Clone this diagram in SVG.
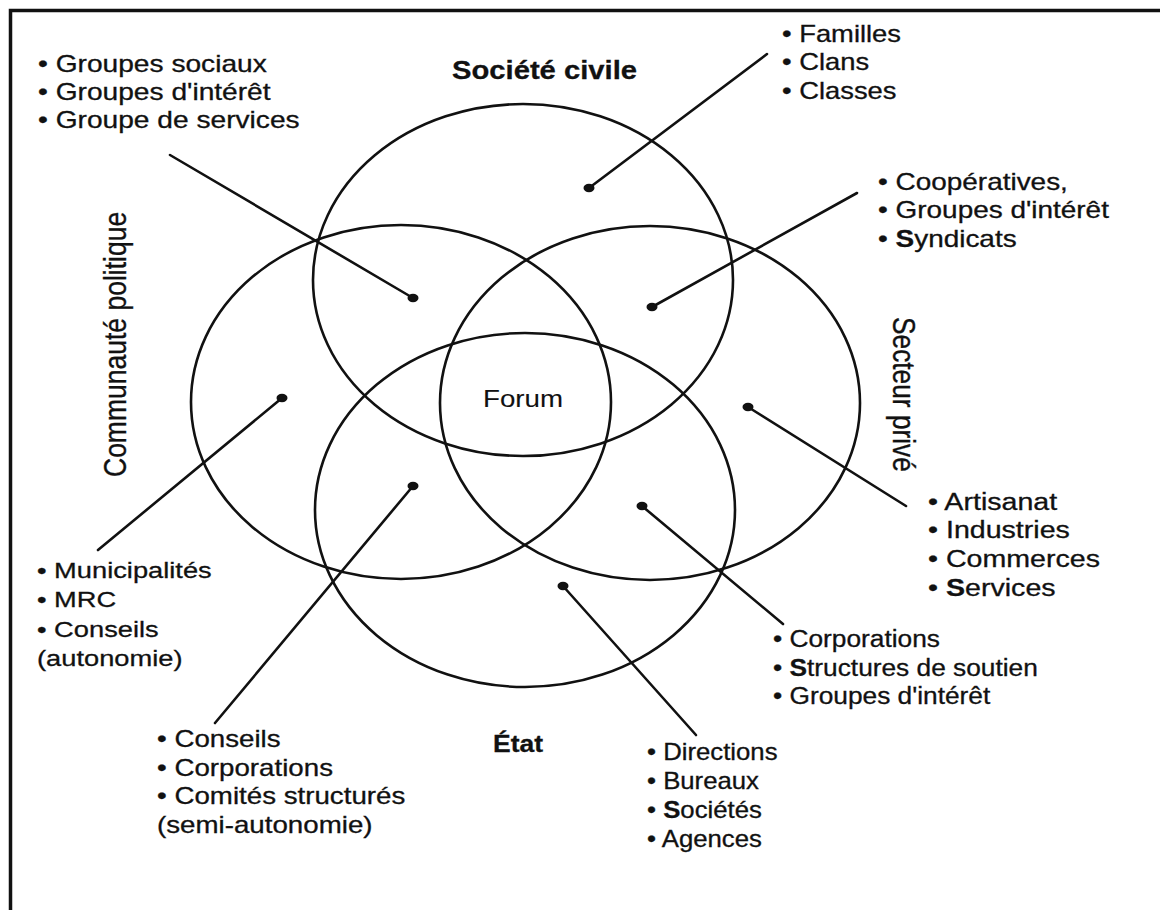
<svg xmlns="http://www.w3.org/2000/svg" width="1160" height="910" viewBox="0 0 1160 910">
<style>
.t{font-family:"Liberation Sans",Arial,sans-serif;font-size:23px;fill:#111;stroke:#111;stroke-width:0.3}
.b{font-weight:bold}
.ring{fill:none;stroke:#111;stroke-width:2.6}
.ln{stroke:#111;stroke-width:2.6;fill:none;stroke-linecap:round}
.dot{fill:#111}
</style>
<rect width="1160" height="910" fill="#fff"/>
<path id="frame" d="M10.5,910 V10.5 H1160" fill="none" stroke="#111" stroke-width="3.5"/>

<g id="societe-civile">
<ellipse class="ring" cx="523" cy="280" rx="210" ry="176"/>
<text class="t b" x="452" y="79" style="font-size:26px" textLength="185" lengthAdjust="spacingAndGlyphs">Société civile</text>
</g>
<g id="communaute-politique">
<ellipse class="ring" cx="401" cy="402" rx="210" ry="177"/>
<text class="t" style="font-size:26.5px" transform="translate(126,477) scale(1.2,1) rotate(-90)">Communauté politique</text>
</g>
<g id="secteur-prive">
<ellipse class="ring" cx="650" cy="403" rx="210" ry="177"/>
<text class="t" style="font-size:26.3px" transform="translate(893,317) scale(1.2,1) rotate(90)">Secteur privé</text>
</g>
<g id="etat">
<ellipse class="ring" cx="525" cy="510" rx="210" ry="177"/>
<text class="t b" x="493" y="752" style="font-size:24px" textLength="50" lengthAdjust="spacingAndGlyphs">État</text>
</g>
<g id="forum">
<text class="t" x="483" y="407" style="font-size:23px;stroke-width:0.1" textLength="80" lengthAdjust="spacingAndGlyphs">Forum</text>
</g>

<g id="connectors">
<line class="ln" x1="170" y1="155" x2="413" y2="298"/>
<line class="ln" x1="767" y1="54" x2="589" y2="188"/>
<line class="ln" x1="857" y1="193" x2="652" y2="307"/>
<line class="ln" x1="98" y1="550" x2="282" y2="398"/>
<line class="ln" x1="215" y1="723" x2="413" y2="486"/>
<line class="ln" x1="906" y1="506" x2="748" y2="407"/>
<line class="ln" x1="783" y1="624" x2="642" y2="506"/>
<line class="ln" x1="696" y1="735" x2="563" y2="586"/>
<ellipse class="dot" cx="413" cy="298" rx="5.5" ry="4.2"/>
<ellipse class="dot" cx="589" cy="188" rx="5.5" ry="4.2"/>
<ellipse class="dot" cx="652" cy="307" rx="5.5" ry="4.2"/>
<ellipse class="dot" cx="282" cy="398" rx="5.5" ry="4.2"/>
<ellipse class="dot" cx="413" cy="486" rx="5.5" ry="4.2"/>
<ellipse class="dot" cx="748" cy="407" rx="5.5" ry="4.2"/>
<ellipse class="dot" cx="642" cy="506" rx="5.5" ry="4.2"/>
<ellipse class="dot" cx="563" cy="586" rx="5.5" ry="4.2"/>
</g>

<g id="list-groupes" transform="translate(38,71.5) scale(1.224,1)">
<text class="t" x="0" y="0">• Groupes sociaux</text>
<text class="t" x="0" y="28.3">• Groupes d'intérêt</text>
<text class="t" x="0" y="56.6">• Groupe de services</text>
</g>
<g id="list-familles" transform="translate(782,42) scale(1.19,1)">
<text class="t" x="0" y="0">• Familles</text>
<text class="t" x="0" y="28.5">• Clans</text>
<text class="t" x="0" y="57">• Classes</text>
</g>
<g id="list-cooperatives" transform="translate(878,190) scale(1.215,1)">
<text class="t" x="0" y="0">• Coopératives,</text>
<text class="t" x="0" y="28.5">• Groupes d'intérêt</text>
<text class="t" x="0" y="57">• <tspan class="b">S</tspan>yndicats</text>
</g>
<g id="list-artisanat" transform="translate(928,510) scale(1.243,1)">
<text class="t" x="0" y="0">• Artisanat</text>
<text class="t" x="0" y="28.5">• Industries</text>
<text class="t" x="0" y="57">• Commerces</text>
<text class="t" x="0" y="86">• <tspan class="b">S</tspan>ervices</text>
</g>
<g id="list-municipalites" transform="translate(37,578) scale(1.186,1)">
<text class="t" x="0" y="0">• Municipalités</text>
<text class="t" x="0" y="29.5">• MRC</text>
<text class="t" x="0" y="59">• Conseils</text>
<text class="t" x="0" y="88.5">(autonomie)</text>
</g>
<g id="list-conseils" transform="translate(157,747) scale(1.205,1)">
<text class="t" x="0" y="0">• Conseils</text>
<text class="t" x="0" y="28.7">• Corporations</text>
<text class="t" x="0" y="57.4">• Comités structurés</text>
<text class="t" x="0" y="86.1">(semi-autonomie)</text>
</g>
<g id="list-corporations" transform="translate(773,647) scale(1.143,1)">
<text class="t" x="0" y="0">• Corporations</text>
<text class="t" x="0" y="28.7">• <tspan class="b">S</tspan>tructures de soutien</text>
<text class="t" x="0" y="57.4">• Groupes d'intérêt</text>
</g>
<g id="list-directions" transform="translate(647,760) scale(1.119,1)">
<text class="t" x="0" y="0">• Directions</text>
<text class="t" x="0" y="29">• Bureaux</text>
<text class="t" x="0" y="58">• <tspan class="b">S</tspan>ociétés</text>
<text class="t" x="0" y="87">• Agences</text>
</g>
</svg>
